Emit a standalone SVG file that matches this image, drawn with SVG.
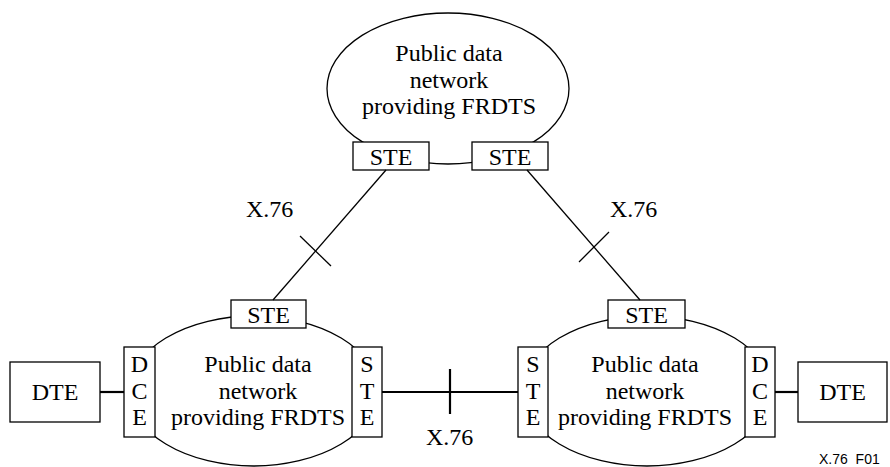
<svg xmlns="http://www.w3.org/2000/svg" width="890" height="467" viewBox="0 0 890 467">
<style>
.net{fill:#fff;stroke:#000;stroke-width:1.3}
.box{fill:#fff;stroke:#000;stroke-width:1.3}
.t{font-family:"Liberation Serif","Times New Roman",serif;font-size:24px;fill:#000;text-anchor:middle}
.lbl{font-family:"Liberation Serif","Times New Roman",serif;font-size:24px;fill:#000}
.conn{stroke:#000;stroke-width:1.3;fill:none}
.thick{stroke:#000;stroke-width:2.2;fill:none}
.fig{font-family:"Liberation Sans",Arial,sans-serif;font-size:14px;fill:#000}
</style>
<rect width="890" height="467" fill="#fff"/>

<g id="net-top">
  <ellipse class="net" cx="448" cy="88.5" rx="121" ry="75.5"/>
  <text class="t" x="449" y="61">Public data</text>
  <text class="t" x="449" y="87.5">network</text>
  <text class="t" x="449" y="114">providing FRDTS</text>
</g>
<g id="ste-top-left">
  <rect class="box" x="353" y="142" width="76" height="28"/>
  <text class="t" x="391" y="165">STE</text>
</g>
<g id="ste-top-right">
  <rect class="box" x="472" y="142" width="76" height="28"/>
  <text class="t" x="510" y="165">STE</text>
</g>

<g id="net-left">
  <ellipse class="net" cx="253.5" cy="391" rx="124" ry="75"/>
  <text class="t" x="258" y="372">Public data</text>
  <text class="t" x="258" y="398.5">network</text>
  <text class="t" x="258" y="425">providing FRDTS</text>
</g>
<g id="ste-left-top">
  <rect class="box" x="231" y="300" width="75" height="28"/>
  <text class="t" x="268.5" y="323">STE</text>
</g>
<g id="dce-left">
  <rect class="box" x="124" y="347" width="31" height="90"/>
  <text class="t" x="139.5" y="372">D</text>
  <text class="t" x="139.5" y="398.5">C</text>
  <text class="t" x="139.5" y="425">E</text>
</g>
<g id="ste-left-right">
  <rect class="box" x="352" y="347" width="30" height="90"/>
  <text class="t" x="367" y="372">S</text>
  <text class="t" x="367" y="398.5">T</text>
  <text class="t" x="367" y="425">E</text>
</g>
<g id="dte-left">
  <rect class="box" x="10" y="362" width="90" height="60"/>
  <text class="t" x="55" y="400">DTE</text>
</g>

<g id="net-right">
  <ellipse class="net" cx="647" cy="391" rx="124" ry="75"/>
  <text class="t" x="645" y="372">Public data</text>
  <text class="t" x="645" y="398.5">network</text>
  <text class="t" x="645" y="425">providing FRDTS</text>
</g>
<g id="ste-right-top">
  <rect class="box" x="608" y="300" width="77" height="28"/>
  <text class="t" x="646.5" y="323">STE</text>
</g>
<g id="ste-right-left">
  <rect class="box" x="518" y="347" width="30" height="90"/>
  <text class="t" x="533" y="372">S</text>
  <text class="t" x="533" y="398.5">T</text>
  <text class="t" x="533" y="425">E</text>
</g>
<g id="dce-right">
  <rect class="box" x="745" y="347" width="30" height="90"/>
  <text class="t" x="760" y="372">D</text>
  <text class="t" x="760" y="398.5">C</text>
  <text class="t" x="760" y="425">E</text>
</g>
<g id="dte-right">
  <rect class="box" x="798" y="362" width="89" height="60"/>
  <text class="t" x="842.5" y="400">DTE</text>
</g>

<g id="connectors">
  <line class="conn" x1="386" y1="170" x2="273" y2="300"/>
  <line class="conn" x1="300" y1="236" x2="331" y2="266"/>
  <line class="conn" x1="527" y1="170" x2="640" y2="300"/>
  <line class="conn" x1="579" y1="262" x2="609" y2="232"/>
  <line class="thick" x1="382" y1="392" x2="518" y2="392"/>
  <line class="thick" x1="450" y1="369" x2="450" y2="414"/>
  <line class="thick" x1="100" y1="392" x2="124" y2="392"/>
  <line class="thick" x1="775" y1="392" x2="798" y2="392"/>
</g>

<g id="labels">
  <text class="lbl" x="246" y="217">X.76</text>
  <text class="lbl" x="610" y="217">X.76</text>
  <text class="lbl" x="426" y="445">X.76</text>
  <text class="fig" x="819" y="464" xml:space="preserve">X.76  F01</text>
</g>
</svg>
